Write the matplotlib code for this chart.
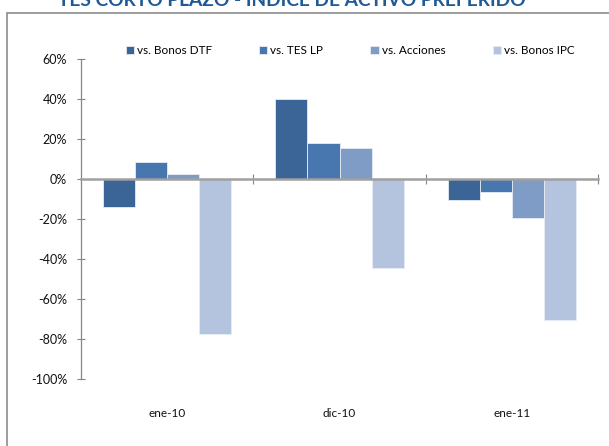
import matplotlib
matplotlib.use("Agg")
import matplotlib.pyplot as plt
import numpy as np
from matplotlib.patches import Rectangle
from matplotlib.ticker import FuncFormatter

# Data
categories = ["ene-10", "dic-10", "ene-11"]
series_names = ["vs. Bonos DTF", "vs. TES LP", "vs. Acciones", "vs. Bonos IPC"]
bonos_dtf = [-14.0, 40.0, -10.5]
tes_lp = [8.5, 18.0, -6.3]
acciones = [2.5, 15.7, -19.3]
bonos_ipc = [-77.3, -44.5, -70.6]
y_ticks = [60, 40, 20, 0, -20, -40, -60, -80, -100]
title = "TES CORTO PLAZO - ÍNDICE DE ACTIVO PREFERIDO"

colors = ["#3C6597", "#4877B0", "#7F9CC7", "#B5C4DE"]
series = [bonos_dtf, tes_lp, acciones, bonos_ipc]

plt.rcParams["font.family"] = ["Lato", "DejaVu Sans"]

W, H = 609, 446
fig = plt.figure(figsize=(W / 100, H / 100), dpi=100)
fig.patch.set_facecolor("white")

# Outer chart frame (open to the right/bottom)
fig.patches.append(Rectangle((7 / W, -0.2), 1.5, 1 - 13 / H + 0.2,
                             transform=fig.transFigure, fill=False,
                             edgecolor="#8C8C8C", linewidth=1.2))

fig.text(292 / W, 1 - 6 / H, title, ha="center", va="baseline",
         fontsize=13.8, fontweight="bold", color="#1F5A96")

ax = fig.add_axes([81 / W, 1 - 379 / H, (598 - 81) / W, (379 - 59) / H])
ax.set_facecolor("none")

x = np.arange(len(categories))
bw = 0.186
for i, (vals, name, c) in enumerate(zip(series, series_names, colors)):
    ax.bar(x + (i - 1.5) * bw, vals, width=bw, color=c, label=name,
           edgecolor="#E6ECF5", linewidth=0.6, zorder=2)

ax.set_xlim(-0.5, 2.5)
ax.set_ylim(-100, 60)
ax.set_yticks(y_ticks)
ax.yaxis.set_major_formatter(FuncFormatter(lambda v, p: f"{int(v)}%"))
ax.tick_params(axis="y", direction="inout", length=6, width=0.8,
               color="#868686", labelsize=9, labelcolor="#111111", pad=7)

for s in ["top", "right"]:
    ax.spines[s].set_visible(False)
ax.spines["left"].set_color("#868686")
ax.spines["left"].set_linewidth(0.9)
ax.spines["bottom"].set_position(("data", 0))
ax.spines["bottom"].set_color("#A0A0A0")
ax.spines["bottom"].set_linewidth(1.8)
ax.spines["bottom"].set_zorder(3)
ax.set_xticks([0.5, 1.5, 2.5])
ax.set_xticklabels([])
ax.tick_params(axis="x", direction="inout", length=7, width=0.8,
               color="#868686")

sec = ax.secondary_xaxis("bottom")
sec.set_xticks(x)
sec.set_xticklabels(categories)
sec.tick_params(length=0, labelsize=8.5, labelcolor="#111111", pad=21)
for s in sec.spines.values():
    s.set_visible(False)

fig.legend(loc="center", bbox_to_anchor=(350 / W, 1 - 50.5 / H), ncol=4,
           frameon=False, fontsize=8.5, handlelength=0.7, handleheight=0.7,
           handletextpad=0.25, columnspacing=4.0, borderaxespad=0)

fig.savefig("out.png", dpi=100)
